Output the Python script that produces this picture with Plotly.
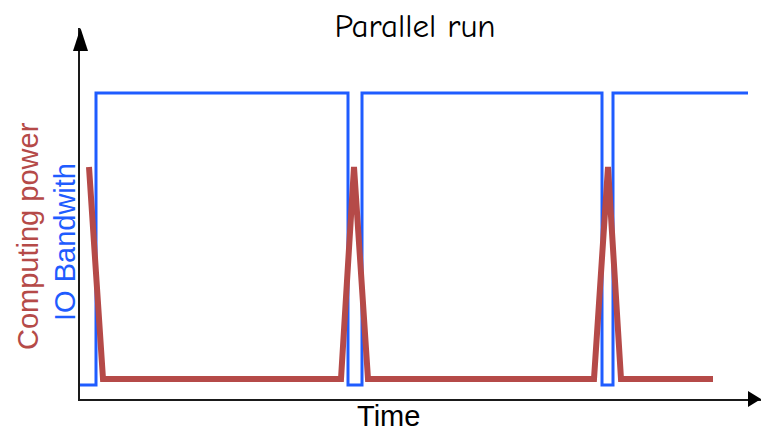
import plotly.graph_objects as go

# ---- data (time units, level units) ----
io_time = [0, 16, 16, 268, 268, 282, 282, 522, 522, 533, 533, 668]
io_level = [14, 14, 306, 306, 14, 14, 306, 306, 14, 14, 306, 306]

cpu_time = [9, 23, 261, 274, 288, 514, 528, 541, 633]
cpu_level = [232, 20, 20, 232, 20, 20, 232, 20, 20]

title_text = "Parallel run"
x_label = "Time"
y_label_cpu = "Computing power"
y_label_io = "IO Bandwith"

RED = "#b54a48"
BLUE = "#1f5cff"

W, H = 761, 435
ML, MR, MT, MB = 80, 0, 28, 36
PW, PH = W - ML - MR, H - MT - MB


def px(x):
    return (x - ML) / PW


def py(y):
    return (H - MB - y) / PH


fig = go.Figure()
fig.add_trace(go.Scatter(x=io_time, y=io_level, mode="lines",
                         line=dict(color=BLUE, width=3), hoverinfo="skip"))
fig.add_trace(go.Scatter(x=cpu_time, y=cpu_level, mode="lines",
                         line=dict(color=RED, width=6), hoverinfo="skip"))

axis_common = dict(showgrid=False, zeroline=False, showticklabels=False,
                   ticks="", showline=True, linecolor="#1a1a1a", linewidth=2)

fig.update_layout(
    width=W, height=H,
    margin=dict(l=ML, r=MR, t=MT, b=MB),
    paper_bgcolor="white", plot_bgcolor="white",
    showlegend=False,
    xaxis=dict(range=[0, PW], **axis_common),
    yaxis=dict(range=[0, PH], **axis_common),
    title=dict(text=title_text, x=415 / W, xanchor="center", xref="container",
               y=1 - 25 / H, yanchor="middle", yref="container",
               font=dict(family="Comic Sans MS, Comic Neue, Lato", size=33, color="black")),
    shapes=[
        dict(type="path", xref="paper", yref="paper",
             path=f"M {px(80.5)} {py(28)} L {px(73)} {py(51)} L {px(88)} {py(51)} Z",
             fillcolor="black", line=dict(width=0)),
        dict(type="path", xref="paper", yref="paper",
             path=f"M {px(761)} {py(399)} L {px(748)} {py(391)} L {px(748)} {py(407)} Z",
             fillcolor="black", line=dict(width=0)),
    ],
    annotations=[
        dict(text=y_label_cpu, xref="paper", yref="paper", x=px(28), y=py(236),
             textangle=-90, showarrow=False, xanchor="center", yanchor="middle",
             font=dict(family="Liberation Sans, Arial", size=29, color=RED)),
        dict(text=y_label_io, xref="paper", yref="paper", x=px(65), y=py(242),
             textangle=-90, showarrow=False, xanchor="center", yanchor="middle",
             font=dict(family="Liberation Sans, Arial", size=29, color=BLUE)),
        dict(text=x_label, xref="paper", yref="paper", x=px(388.5), y=py(434),
             showarrow=False, xanchor="center", yanchor="bottom",
             font=dict(family="Liberation Sans, Arial", size=29, color="black")),
    ],
)

fig.write_html("out.html", config={"displayModeBar": False})

# remove the default page margin so the figure sits at the window's top-left
with open("out.html", encoding="utf-8") as f:
    html = f.read()
html = html.replace("<head>", "<head><style>html,body{margin:0;padding:0;overflow:hidden;}</style>", 1)
with open("out.html", "w", encoding="utf-8") as f:
    f.write(html)
